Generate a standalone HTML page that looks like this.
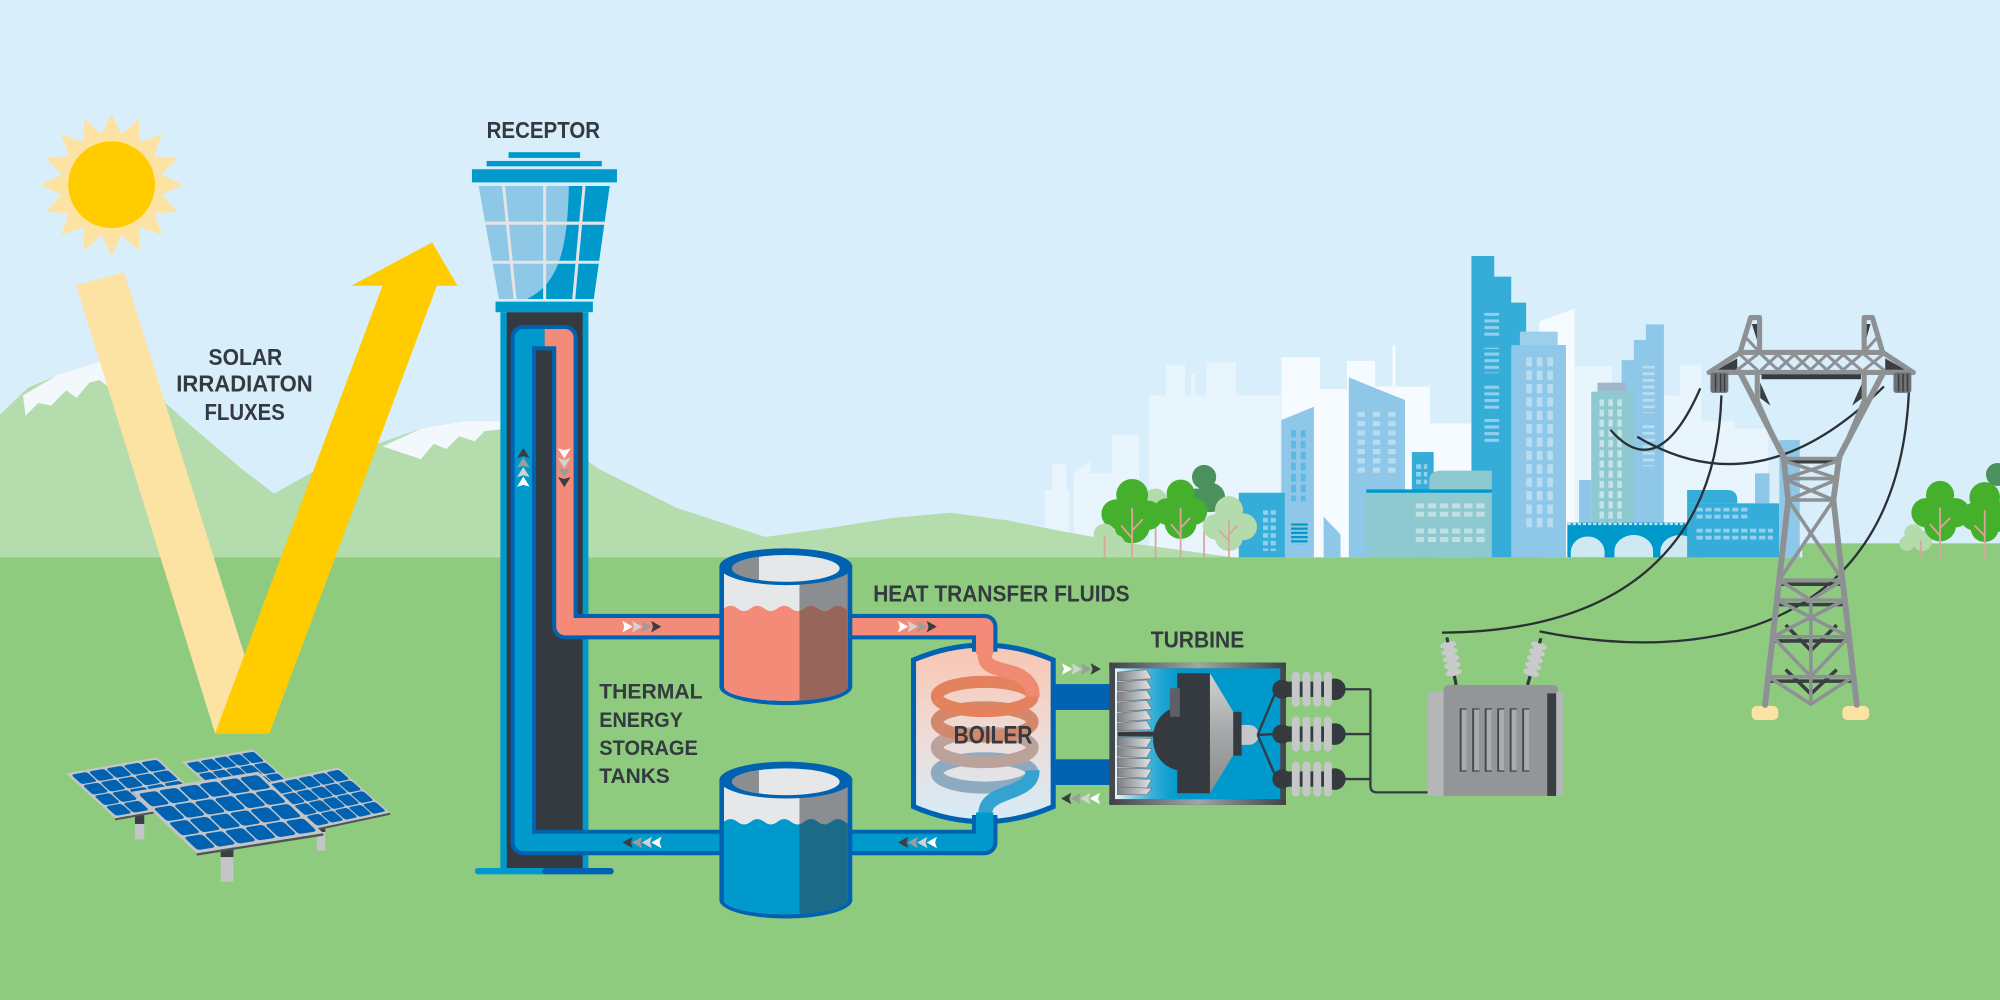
<!DOCTYPE html>
<html><head><meta charset="utf-8"><style>html,body{margin:0;padding:0;background:#d9eefb;}svg{display:block}</style></head>
<body>
<svg xmlns="http://www.w3.org/2000/svg" width="2000" height="1000" viewBox="0 0 1568 784">
<defs>
<linearGradient id="boilG" x1="0" y1="0" x2="0" y2="1"><stop offset="0" stop-color="#f9c6b2"/><stop offset="0.5" stop-color="#eedbd6"/><stop offset="1" stop-color="#d6ecf9"/></linearGradient>
<linearGradient id="turbL" x1="0" y1="0" x2="1" y2="0"><stop offset="0" stop-color="#eef7fc"/><stop offset="1" stop-color="#0099cc" stop-opacity="0"/></linearGradient>
<linearGradient id="bladeG" x1="0" y1="0" x2="1" y2="0"><stop offset="0" stop-color="#7c7f82"/><stop offset="1" stop-color="#e3e5e7"/></linearGradient>
<linearGradient id="frameG" x1="0" y1="0" x2="1" y2="0"><stop offset="0" stop-color="#3e4246"/><stop offset="0.5" stop-color="#a3a5a8"/><stop offset="1" stop-color="#3e4246"/></linearGradient>
<linearGradient id="coneG" x1="0" y1="0" x2="0" y2="1"><stop offset="0" stop-color="#d0d2d4"/><stop offset="0.5" stop-color="#a5a7a9"/><stop offset="1" stop-color="#8a8c8e"/></linearGradient>
<g id="chev">
<polygon points="0,-4.5 8,0 0,4.5 1.5,0" fill="#ffffff"/>
<polygon points="7.5,-4.5 15.5,0 7.5,4.5 9,0" fill="#d2d2d2"/>
<polygon points="15,-4.5 23,0 15,4.5 16.5,0" fill="#9c9c9c"/>
<polygon points="22.5,-4.5 30.5,0 22.5,4.5 24,0" fill="#3a3d41"/>
</g>
<g id="cells5" fill="#0062b0">
<rect x="3.4" y="3.4" width="17.4" height="16.9" rx="3"/><rect x="22.6" y="3.4" width="17.4" height="16.9" rx="3"/><rect x="41.8" y="3.4" width="17.4" height="16.9" rx="3"/><rect x="60.9" y="3.4" width="17.4" height="16.9" rx="3"/><rect x="80.1" y="3.4" width="17.4" height="16.9" rx="3"/>
<rect x="3.4" y="22.2" width="17.4" height="16.9" rx="3"/><rect x="22.6" y="22.2" width="17.4" height="16.9" rx="3"/><rect x="41.8" y="22.2" width="17.4" height="16.9" rx="3"/><rect x="60.9" y="22.2" width="17.4" height="16.9" rx="3"/><rect x="80.1" y="22.2" width="17.4" height="16.9" rx="3"/>
<rect x="3.4" y="40.9" width="17.4" height="16.9" rx="3"/><rect x="22.6" y="40.9" width="17.4" height="16.9" rx="3"/><rect x="41.8" y="40.9" width="17.4" height="16.9" rx="3"/><rect x="60.9" y="40.9" width="17.4" height="16.9" rx="3"/><rect x="80.1" y="40.9" width="17.4" height="16.9" rx="3"/>
<rect x="3.4" y="59.7" width="17.4" height="16.9" rx="3"/><rect x="22.6" y="59.7" width="17.4" height="16.9" rx="3"/><rect x="41.8" y="59.7" width="17.4" height="16.9" rx="3"/><rect x="60.9" y="59.7" width="17.4" height="16.9" rx="3"/><rect x="80.1" y="59.7" width="17.4" height="16.9" rx="3"/>
</g>
<clipPath id="tankClip"><path d="M567.6,444.3 L567.6,538.4 A48.5,11 0 0 0 664.6,538.4 L664.6,444.3 Z"/></clipPath>
<clipPath id="openClip"><ellipse cx="616.1" cy="445.6" rx="42.2" ry="10.5"/></clipPath>
<clipPath id="rightClip"><rect x="626.8" y="400" width="60" height="200"/></clipPath>
<path id="liq" d="M567.6,477 Q572.85,472.8 578.1,477 T588.6,477 T599.1,477 T609.6,477 T620.1,477 T630.6,477 T641.1,477 T651.6,477 T662.1,477 T672.6,477 L672.6,560 L567.6,560 Z"/>
<pattern id="pa" patternUnits="userSpaceOnUse" x="1163.8" y="245.2" width="11.5" height="5.2"><rect width="11.5" height="2.4" fill="#8fd0ee"/></pattern>
<pattern id="pb" patternUnits="userSpaceOnUse" x="1196.5" y="280" width="8.3" height="10.5"><rect width="4.5" height="7.3" fill="#b9dcf1"/></pattern>
<pattern id="pd" patternUnits="userSpaceOnUse" x="1287.8" y="286.7" width="9.4" height="5.2"><rect width="9.4" height="2.2" fill="#b9dcf1"/></pattern>
<pattern id="pe" patternUnits="userSpaceOnUse" x="1254" y="313" width="7" height="8"><rect width="3.5" height="5.5" fill="#c5e4e6"/></pattern>
<pattern id="pf" patternUnits="userSpaceOnUse" x="1012.2" y="337" width="7.6" height="8.6"><rect width="3.8" height="6" fill="#5db8e2"/></pattern>
<pattern id="pg" patternUnits="userSpaceOnUse" x="1064.3" y="322.8" width="12" height="7.3"><rect width="5.8" height="4" fill="#b9dcf1"/></pattern>
<pattern id="pi" patternUnits="userSpaceOnUse" x="1109.9" y="394.6" width="9.5" height="6.6"><rect width="6.5" height="3.9" fill="#c2e0e3"/></pattern>
<pattern id="pj" patternUnits="userSpaceOnUse" x="990.2" y="400" width="6" height="6"><rect width="4" height="3.6" fill="#8fd0ee"/></pattern>
<pattern id="pl" patternUnits="userSpaceOnUse" x="1330" y="398" width="7" height="5.5"><rect width="5" height="3" fill="#8fd0ee"/></pattern>
<pattern id="pk" patternUnits="userSpaceOnUse" x="1229" y="410" width="4" height="3"><rect width="2.5" height="1.6" fill="#c9e7f5"/></pattern>
<pattern id="pm" patternUnits="userSpaceOnUse" x="1012.2" y="410.3" width="13" height="3.3"><rect width="13" height="1.8" fill="#0099cc"/></pattern>
</defs>

<rect x="0" y="0" width="1568" height="784" fill="#d9eefb"/>

<g fill="#e9f5fd">
<rect x="819" y="384" width="19" height="53"/><rect x="825" y="364" width="11" height="20"/>
<rect x="842" y="371" width="51" height="66"/><polygon points="842,371 855,361 855,371"/>
<rect x="872" y="341" width="21" height="30"/>
<rect x="901" y="310" width="103" height="127"/><rect x="914" y="286" width="15" height="24"/><rect x="946" y="284" width="23" height="26"/><rect x="934" y="293" width="3" height="17"/>
<rect x="1228" y="287" width="36" height="150"/>
<rect x="1304" y="310" width="30" height="127"/><rect x="1317" y="286" width="17" height="24"/>
<rect x="1334" y="330" width="26" height="107"/><rect x="1359" y="336" width="27" height="101"/>
</g>
<g fill="#f5fbff">
<rect x="1004.6" y="280" width="30.4" height="157"/><rect x="1035" y="305" width="22" height="132"/>
<rect x="1056" y="283" width="22" height="154"/><rect x="1078" y="303" width="43" height="134"/>
<rect x="1091.7" y="271" width="2.3" height="32"/><rect x="1121" y="332" width="33" height="105"/>
<polygon points="1206.8,252 1234.5,242 1234.5,437 1206.8,437"/>
</g>

<polygon points="1271.4,437 1271.4,282.3 1280.9,282.3 1280.9,266.6 1290.4,266.6 1290.4,254.3 1304.5,254.3 1304.5,437" fill="#8ec7e8"/>
<rect x="1287.8" y="286.7" width="9.4" height="37" fill="url(#pd)"/><rect x="1287.8" y="330.6" width="9.4" height="35" fill="url(#pd)"/>
<rect x="1238" y="376.3" width="9.5" height="61" fill="#8ec7e8"/>
<rect x="1247.5" y="307.1" width="33.4" height="130" fill="#8ec9d1"/>
<rect x="1252.4" y="300" width="22.8" height="7.1" fill="#9fb6cd"/>
<rect x="1254" y="313" width="21" height="118" fill="url(#pe)"/>
<polygon points="1153.6,437 1153.6,200.7 1171.5,200.7 1171.5,216.9 1184.8,216.9 1184.8,237.3 1196.5,237.3 1196.5,437" fill="#36acd8"/>
<rect x="1163.8" y="245.2" width="11.5" height="20" fill="url(#pa)"/><rect x="1163.8" y="272.6" width="11.5" height="20" fill="url(#pa)"/>
<rect x="1163.8" y="301.3" width="11.5" height="20" fill="url(#pa)"/><rect x="1163.8" y="328.5" width="11.5" height="20" fill="url(#pa)"/>
<rect x="1184.8" y="270.5" width="42.9" height="166.5" fill="#8ec7e8"/>
<rect x="1191.6" y="260" width="29.6" height="10.5" fill="#9ccfea"/>
<rect x="1196.5" y="280" width="25" height="136" fill="url(#pb)"/>
<polygon points="1004.6,437 1004.6,329.3 1030.1,318.9 1030.1,437" fill="#8ec7e8"/>
<rect x="1012.2" y="337" width="11.5" height="56" fill="url(#pf)"/>
<rect x="1012.2" y="410.3" width="13" height="16.5" fill="url(#pm)"/>
<polygon points="1037.7,405 1051,419 1051,437 1037.7,437" fill="#8ec7e8"/>
<polygon points="1057.5,437 1057.5,295.9 1101.5,313.6 1101.5,437" fill="#8ec7e8"/>
<rect x="1064.3" y="322.8" width="31" height="50" fill="url(#pg)"/>
<rect x="1106.9" y="354.4" width="17.1" height="82.6" fill="#36acd8"/>
<rect x="1110" y="362" width="9" height="20" fill="url(#pj)"/>
<path d="M1120.5,384 L1120.5,377 Q1120.5,369 1130,369 L1169.6,369 L1169.6,384 Z" fill="#8ec9d1"/>
<rect x="1071.1" y="383.7" width="98.5" height="53.3" fill="#8ec9d1"/>
<rect x="1071.1" y="383.7" width="98.5" height="2.6" fill="#0099cc"/>
<rect x="1109.9" y="394.6" width="57" height="11" fill="url(#pi)"/><rect x="1109.9" y="414.2" width="57" height="11" fill="url(#pi)"/>
<rect x="971.2" y="386.3" width="36.1" height="50.7" fill="#36acd8"/>
<rect x="990.2" y="400" width="12" height="32" fill="url(#pj)"/>
<rect x="1228.8" y="409.8" width="107.2" height="27.2" fill="#0099cc"/>
<rect x="1229" y="410" width="107" height="2.2" fill="url(#pk)"/>
<g fill="#cfe9f3">
<path d="M1231.5,437 L1231.5,432 A13.3,12.5 0 0 1 1258,432 L1258,437 Z"/>
<path d="M1265.7,437 L1265.7,432 A15.1,12.5 0 0 1 1296,432 L1296,437 Z"/>
<path d="M1301.8,437 L1301.8,432 A15.2,12.5 0 0 1 1332.2,432 L1332.2,437 Z"/>
</g>
<rect x="1375.9" y="371.1" width="11.4" height="23.5" fill="#8ec7e8"/>
<path d="M1322.7,394.6 L1322.7,384.2 L1354,384.2 Q1362,384.2 1362,392 L1362,394.6 Z" fill="#36acd8"/>
<rect x="1322.7" y="394.6" width="72.2" height="42.4" fill="#36acd8"/>
<rect x="1330" y="398" width="42" height="10" fill="url(#pl)"/><rect x="1330" y="412" width="60" height="12" fill="url(#pl)"/>
<rect x="1395" y="345" width="16" height="92" fill="#8ec7e8"/>

<polygon points="0,325 22,304 48,293 80,283 112,300 150,334 190,368 215,387 245,370 290,350 330,336 365,330 395,330 430,340 470,368 530,398 600,421 650,414 700,406 745,402 790,408 830,416 880,425 967,437 967,445 0,445" fill="#b4dcad"/>
<polygon points="18,310 45,294 80,283 100,293 92,296 86,304 78,298 70,300 60,312 52,306 40,318 30,316 20,326" fill="#f2f8fc"/>
<polygon points="300,350 330,336 365,330 395,330 398,336 380,338 372,346 360,342 350,352 340,348 330,360 318,356" fill="#f2f8fc"/>

<rect x="0" y="437" width="1568" height="347" fill="#8fcb7f"/>
<rect x="1413" y="426" width="155" height="12" fill="#8fcb7f"/>

<g stroke="#d9a69c" stroke-width="1.4" fill="none">
<line x1="906" y1="395" x2="906" y2="437"/><line x1="944" y1="380" x2="944" y2="437"/>
</g>
<circle cx="906" cy="392" r="9" fill="#b4dbab"/>
<g fill="#4a915b"><circle cx="944" cy="374" r="9.5"/><circle cx="949" cy="390" r="11.5"/><circle cx="938" cy="392" r="9"/></g>
<g fill="#45b02c">
<circle cx="925.6" cy="387" r="11"/><circle cx="915" cy="401" r="10.5"/><circle cx="936" cy="401" r="10.5"/><circle cx="925.6" cy="410" r="12.5"/>
<circle cx="887.6" cy="388" r="12.5"/><circle cx="875" cy="403" r="11.5"/><circle cx="900" cy="404" r="11.5"/><circle cx="887.6" cy="412" r="14"/>
</g>
<g fill="#b4dbab">
<circle cx="963.5" cy="400" r="11"/><circle cx="953" cy="413" r="10"/><circle cx="975" cy="413" r="10.5"/><circle cx="963.5" cy="421" r="11"/>
<circle cx="866" cy="419" r="8.5"/><circle cx="874" cy="427" r="8"/>
</g>
<g stroke="#d9a69c" stroke-width="1.4" fill="none">
<line x1="887.6" y1="398" x2="887.6" y2="437"/><line x1="887.6" y1="422" x2="879" y2="412"/><line x1="887.6" y1="416" x2="896" y2="407"/>
<line x1="925.6" y1="398" x2="925.6" y2="437"/><line x1="925.6" y1="420" x2="918" y2="411"/><line x1="925.6" y1="414" x2="933" y2="406"/>
<line x1="963.5" y1="408" x2="963.5" y2="437"/><line x1="963.5" y1="424" x2="956" y2="416"/><line x1="963.5" y1="419" x2="970" y2="412"/>
<line x1="866" y1="420" x2="866" y2="437"/>
</g>

<circle cx="1566" cy="372" r="9" fill="#4a915b"/>
<g fill="#b4dbab"><circle cx="1500" cy="418" r="7"/><circle cx="1507" cy="424" r="8"/><circle cx="1495" cy="426" r="6"/></g>
<g fill="#45b02c">
<circle cx="1521" cy="388" r="11"/><circle cx="1510" cy="402" r="11.5"/><circle cx="1533" cy="402" r="11.5"/><circle cx="1521" cy="412" r="12.5"/>
<circle cx="1556" cy="390" r="12"/><circle cx="1548" cy="405" r="11"/><circle cx="1566" cy="405" r="12"/><circle cx="1556" cy="414" r="11"/>
</g>
<g stroke="#d9a69c" stroke-width="1.4" fill="none">
<line x1="1521" y1="398" x2="1521" y2="437.7"/><line x1="1521" y1="420" x2="1513" y2="411"/><line x1="1521" y1="414" x2="1529" y2="406"/>
<line x1="1556" y1="400" x2="1556" y2="437.7"/><line x1="1556" y1="420" x2="1548" y2="412"/>
<line x1="1506" y1="424" x2="1506" y2="437"/>
</g>

<polygon points="87.5,88.8 95.3,105.6 108.9,93.06 109.7,111.5 127.1,105.2 120.8,122.6 139.2,123.4 126.7,137 143.5,144.8 126.7,152.6 139.2,166.2 120.8,167 127.1,184.4 109.7,178.1 108.9,196.5 95.3,184 87.5,200.8 79.7,184 66.1,196.5 65.3,178.1 47.9,184.4 54.2,167 35.8,166.2 48.3,152.6 31.5,144.8 48.3,137 35.8,123.4 54.2,122.6 47.9,105.2 65.3,111.5 66.1,93.06 79.7,105.6" fill="#fde3a3"/>
<circle cx="87.5" cy="144.8" r="34" fill="#ffcc00"/>

<polygon points="59.5,223.4 97.3,213.5 211,575 168.6,575" fill="#fde3a3"/>
<polygon points="168.6,575 211.2,575 342.5,224 358.7,224 338.8,190 275.4,224 299.9,224" fill="#ffcc00"/>

<g font-family="'Liberation Sans', Arial, sans-serif" font-weight="bold" fill="#333a40" font-size="18">
<text x="163.5" y="286.2" textLength="57.8" lengthAdjust="spacingAndGlyphs">SOLAR</text>
<text x="138.2" y="307.1" textLength="107" lengthAdjust="spacingAndGlyphs">IRRADIATON</text>
<text x="160.3" y="329.3" textLength="63" lengthAdjust="spacingAndGlyphs">FLUXES</text>
<text x="381.5" y="108.3" textLength="89" lengthAdjust="spacingAndGlyphs">RECEPTOR</text>
<text x="684.6" y="471.6" textLength="201" lengthAdjust="spacingAndGlyphs">HEAT TRANSFER FLUIDS</text>
<text x="902.2" y="507.5" textLength="73.3" lengthAdjust="spacingAndGlyphs">TURBINE</text>
</g>
<g font-family="'Liberation Sans', Arial, sans-serif" font-weight="bold" fill="#333a40" font-size="17">
<text x="469.8" y="547.5" textLength="81" lengthAdjust="spacingAndGlyphs">THERMAL</text>
<text x="469.8" y="569.8" textLength="65.6" lengthAdjust="spacingAndGlyphs">ENERGY</text>
<text x="469.8" y="591.8" textLength="77.3" lengthAdjust="spacingAndGlyphs">STORAGE</text>
<text x="469.8" y="614" textLength="55.3" lengthAdjust="spacingAndGlyphs">TANKS</text>
</g>

<rect x="105.8" y="639" width="7.3" height="7" fill="#3a3e42"/><rect x="105.8" y="646" width="7.3" height="12" fill="#c3c5c7"/>
<rect x="248.3" y="646.8" width="6.7" height="5.5" fill="#3a3e42"/><rect x="248.3" y="652.3" width="6.7" height="14.7" fill="#c3c5c7"/>
<rect x="173" y="663.8" width="10" height="8.2" fill="#3a3e42"/><rect x="173" y="672" width="10" height="19.2" fill="#c3c5c7"/>
<g transform="matrix(0.562,-0.097,0.5,0.45,142.4,597.2)"><rect width="100" height="80" fill="#c3c5c7"/><use href="#cells5"/></g>
<g transform="matrix(0.711,-0.126,0.481,0.441,51.7,606.3)"><rect width="100" height="80" fill="#c3c5c7"/><use href="#cells5"/></g>
<line x1="90.2" y1="642.4" x2="161.3" y2="629.8" stroke="#4f5458" stroke-width="1.6"/>
<g transform="matrix(0.575,-0.122,0.506,0.445,207.8,613.8)"><rect width="100" height="80" fill="#c3c5c7"/><use href="#cells5"/></g>
<line x1="248.3" y1="650.2" x2="305.8" y2="638" stroke="#4f5458" stroke-width="1.6"/>
<g transform="matrix(0.8275,-0.1308,0.6375,0.6038,103.2,620.7)"><rect width="120" height="80" fill="#c3c5c7"/><use href="#cells5"/>
<g fill="#0062b0"><rect x="99.3" y="3.4" width="17.4" height="16.9" rx="3"/><rect x="99.3" y="22.2" width="17.4" height="16.9" rx="3"/><rect x="99.3" y="40.9" width="17.4" height="16.9" rx="3"/><rect x="99.3" y="59.7" width="17.4" height="16.9" rx="3"/></g></g>
<line x1="154.2" y1="669.9" x2="253.5" y2="654.2" stroke="#4f5458" stroke-width="1.8"/>

<rect x="398.7" y="119.3" width="56.1" height="4.5" fill="#0099cc"/>
<rect x="381.5" y="126.2" width="90.3" height="4.2" fill="#0099cc"/>
<rect x="370" y="132.7" width="113.7" height="10.3" fill="#0099cc"/>
<polygon points="375.2,145.8 478,145.8 465.5,234.4 391.2,234.4" fill="#8fc7e7"/>
<path d="M446,145.8 C445,190 440,222 413,234.4 L465.5,234.4 L478,145.8 Z" fill="#0099cc"/>
<g stroke="#e2e4e6" stroke-width="2.4">
<line x1="380.5" y1="175" x2="473.9" y2="175"/><line x1="386" y1="205.6" x2="469.6" y2="205.6"/>
<line x1="394.8" y1="145.8" x2="403.8" y2="234.4"/><line x1="427" y1="145.8" x2="427" y2="234.4"/><line x1="457.9" y1="145.8" x2="449.8" y2="234.4"/>
</g>
<rect x="388.5" y="236.5" width="76.3" height="8.3" fill="#0099cc"/>
<rect x="392.3" y="244.8" width="69" height="435.7" fill="#0099cc"/>
<rect x="397.3" y="244.8" width="59.5" height="435.7" fill="#353a40"/>
<rect x="372.3" y="680.5" width="56" height="5" rx="2.5" fill="#0099cc"/>
<rect x="425" y="680.5" width="56.2" height="5" rx="2.5" fill="#0062b0"/>

<rect x="822" y="536.3" width="50" height="20.3" fill="#0062b0"/>
<rect x="822" y="595.3" width="50" height="20.1" fill="#0062b0"/>

<path d="M716.2,517.4 Q771,494 825.7,517.4 L825.7,632.4 Q771,656 716.2,632.4 Z" fill="url(#boilG)" stroke="#0062b0" stroke-width="4"/>
<g fill="none" stroke-width="9.5">
<ellipse cx="772" cy="606" rx="37.5" ry="11.5" stroke="#8eaac0"/>
<ellipse cx="772" cy="586" rx="37.5" ry="11.5" stroke="#bba29b"/>
<ellipse cx="772" cy="566" rx="37.5" ry="11.5" stroke="#d1886d"/>
<ellipse cx="772" cy="546" rx="37.5" ry="11.5" stroke="#e3825d"/>
</g>
<path d="M772,505 L772,514 C772,526 790,524 800,530 C808,535 810,540 809.5,546" fill="none" stroke="#f08a72" stroke-width="11"/>
<path d="M809.5,604 C810,618 790,620 780,626 C773,630 772,634 772,645" fill="none" stroke="#35a3cf" stroke-width="11"/>

<g fill="none" stroke="#0062b0" stroke-width="20" stroke-linejoin="round">
<path d="M427,264.7 L410.3,264.7 L410.3,660.5 L570,660.5"/>
<path d="M427,264.7 L442.9,264.7 L442.9,491.3 L570,491.3"/>
<path d="M662,491.3 L772,491.3 L772,511"/>
<path d="M662,660.5 L772,660.5 L772,639"/>
</g>
<g fill="none" stroke-width="13.6" stroke-linejoin="round">
<path d="M427,264.7 L410.3,264.7 L410.3,660.5 L570,660.5" stroke="#0099cc"/>
<path d="M427,264.7 L442.9,264.7 L442.9,491.3 L570,491.3" stroke="#f48b78"/>
<path d="M662,491.3 L772,491.3 L772,513" stroke="#f48b78"/>
<path d="M662,660.5 L772,660.5 L772,637" stroke="#0099cc"/>
</g>

<g>
<path d="M564,444.3 A52.1,14.4 0 0 1 668.2,444.3 L668.2,538.4 A52.1,14.4 0 0 1 564,538.4 Z" fill="#0062b0"/>
<g clip-path="url(#tankClip)">
<rect x="567.6" y="440" width="59.2" height="115" fill="#e5e7e9"/>
<rect x="626.8" y="440" width="40" height="115" fill="#8b8e91"/>
<use href="#liq" fill="#f48b78"/>
<g clip-path="url(#rightClip)"><use href="#liq" fill="#98655a"/></g>
</g>
<ellipse cx="616.1" cy="444.3" rx="52.1" ry="14.4" fill="#0062b0"/>
<g clip-path="url(#openClip)"><rect x="570" y="430" width="96" height="30" fill="#e5e7e9"/><rect x="570" y="430" width="25" height="30" fill="#8b8e91"/></g>
</g>
<g transform="translate(0,167.3)">
<path d="M564,444.3 A52.1,14.4 0 0 1 668.2,444.3 L668.2,538.4 A52.1,14.4 0 0 1 564,538.4 Z" fill="#0062b0"/>
<g clip-path="url(#tankClip)">
<rect x="567.6" y="440" width="59.2" height="115" fill="#e5e7e9"/>
<rect x="626.8" y="440" width="40" height="115" fill="#8b8e91"/>
<use href="#liq" fill="#0099cc"/>
<g clip-path="url(#rightClip)"><use href="#liq" fill="#1b6a88"/></g>
</g>
<ellipse cx="616.1" cy="444.3" rx="52.1" ry="14.4" fill="#0062b0"/>
<g clip-path="url(#openClip)"><rect x="570" y="430" width="96" height="30" fill="#e5e7e9"/><rect x="570" y="430" width="25" height="30" fill="#8b8e91"/></g>
</g>

<use href="#chev" transform="translate(488,491.3)"/>
<use href="#chev" transform="translate(704,491.3)"/>
<use href="#chev" transform="translate(518.6,660.5) scale(-1,1)"/>
<use href="#chev" transform="translate(734.6,660.5) scale(-1,1)"/>
<use href="#chev" transform="translate(832.6,524.5)"/>
<use href="#chev" transform="translate(862.4,626) scale(-1,1)"/>
<use href="#chev" transform="translate(410.3,381.6) rotate(-90) scale(1,1.1)"/>
<use href="#chev" transform="translate(442.4,351.5) rotate(90) scale(1,1.1)"/>

<text x="747.6" y="582.8" font-family="'Liberation Sans', Arial, sans-serif" font-weight="bold" fill="#333a40" font-size="19.5" textLength="61.8" lengthAdjust="spacingAndGlyphs">BOILER</text>

<rect x="869.7" y="519.5" width="138.5" height="111.5" fill="#45494d"/>
<rect x="869.7" y="519.5" width="138.5" height="4.5" fill="url(#frameG)"/>
<rect x="869.7" y="626.5" width="138.5" height="4.5" fill="url(#frameG)"/>
<rect x="874.2" y="524" width="129.5" height="102.5" fill="#0099cc"/>
<rect x="874.2" y="524" width="58" height="102.5" fill="url(#turbL)"/>
<g fill="url(#bladeG)" stroke="#6d7073" stroke-width="0.5">
<polygon points="876,527 899,525 903,532 876,534"/>
<polygon points="876,535 899,533 903,540 876,542"/>
<polygon points="876,543 899,541 903,548 876,550"/>
<polygon points="876,551 899,549 903,556 876,558"/>
<polygon points="876,559 899,557 903,564 876,566"/>
<polygon points="876,567 899,565 903,572 876,573"/>
<polygon points="876,578 903,579 899,586 876,585"/>
<polygon points="876,586 903,587 899,594 876,593"/>
<polygon points="876,594 903,595 899,602 876,601"/>
<polygon points="876,602 903,603 899,610 876,609"/>
<polygon points="876,610 903,611 899,618 876,617"/>
<polygon points="876,617 903,618 899,623 876,623"/>
</g>
<rect x="876" y="573.6" width="31" height="3.9" fill="#35393d"/>
<path d="M924,554 C912,556 904,566 904,579 C904,592 912,602 924,604 Z" fill="#353a40"/>
<rect x="923" y="527.8" width="26" height="94.1" fill="#353a40"/>
<rect x="917.3" y="539.6" width="7.7" height="22.4" fill="#5d6165"/>
<polygon points="948.6,527.8 966.9,558 966.9,591.9 948.6,621.9" fill="url(#coneG)"/>
<rect x="966.9" y="558" width="6.5" height="34.4" fill="#353a40"/>
<path d="M973.4,568.3 L979,568.3 A7.8,7.8 0 0 1 979,584 L973.4,584 Z" fill="#c5c7c9"/>
<g stroke="#353a40" stroke-width="1.8" fill="none">
<line x1="986" y1="576.2" x2="1001" y2="540.4"/><line x1="986" y1="576.2" x2="1001" y2="575.5"/><line x1="986" y1="576.2" x2="1001" y2="610.8"/>
</g>

<g>
<circle cx="1005" cy="540.4" r="7.5" fill="#353a40"/><rect x="1005" y="534.4" width="43" height="12" fill="#353a40"/><circle cx="1046.5" cy="540.4" r="8.5" fill="#353a40"/>
<circle cx="1005" cy="575.5" r="7.5" fill="#353a40"/><rect x="1005" y="569.5" width="43" height="12" fill="#353a40"/><circle cx="1046.5" cy="575.5" r="8.5" fill="#353a40"/>
<circle cx="1005" cy="610.8" r="7.5" fill="#353a40"/><rect x="1005" y="604.8" width="43" height="12" fill="#353a40"/><circle cx="1046.5" cy="610.8" r="8.5" fill="#353a40"/>
</g>
<g fill="#c5c7c9">
<rect x="1012.8" y="526.7" width="6.2" height="27.4" rx="3"/><rect x="1021.2" y="526.7" width="6.2" height="27.4" rx="3"/><rect x="1029.6" y="526.7" width="6.2" height="27.4" rx="3"/><rect x="1038" y="526.7" width="6.2" height="27.4" rx="3"/>
<rect x="1012.8" y="561.8" width="6.2" height="27.4" rx="3"/><rect x="1021.2" y="561.8" width="6.2" height="27.4" rx="3"/><rect x="1029.6" y="561.8" width="6.2" height="27.4" rx="3"/><rect x="1038" y="561.8" width="6.2" height="27.4" rx="3"/>
<rect x="1012.8" y="597.1" width="6.2" height="27.4" rx="3"/><rect x="1021.2" y="597.1" width="6.2" height="27.4" rx="3"/><rect x="1029.6" y="597.1" width="6.2" height="27.4" rx="3"/><rect x="1038" y="597.1" width="6.2" height="27.4" rx="3"/>
</g>
<path d="M1054,540.4 L1074.4,540.4 M1054,575.5 L1074.4,575.5 M1054,610.8 L1074.4,610.8 M1074.4,540.4 L1074.4,616 Q1074.4,621.2 1079.5,621.2 L1120,621.2" fill="none" stroke="#353a40" stroke-width="1.8"/>

<g transform="translate(1141.6,537) rotate(-11)">
<line x1="0" y1="0" x2="0" y2="-9" stroke="#353a40" stroke-width="2.5"/>
<rect x="-3.5" y="-34" width="7" height="26" fill="#c8cacc"/>
<ellipse cx="0" cy="-10" rx="6.5" ry="2.8" fill="#c8cacc"/><ellipse cx="0" cy="-15.5" rx="6.5" ry="2.8" fill="#c8cacc"/><ellipse cx="0" cy="-21" rx="6.5" ry="2.8" fill="#c8cacc"/><ellipse cx="0" cy="-26.5" rx="6.5" ry="2.8" fill="#c8cacc"/><ellipse cx="0" cy="-32" rx="6.5" ry="2.8" fill="#c8cacc"/>
<line x1="0" y1="-34" x2="0" y2="-38" stroke="#353a40" stroke-width="2.5"/>
</g>
<g transform="translate(1197.6,537) rotate(16)">
<line x1="0" y1="0" x2="0" y2="-9" stroke="#353a40" stroke-width="2.5"/>
<rect x="-3.5" y="-34" width="7" height="26" fill="#c8cacc"/>
<ellipse cx="0" cy="-10" rx="6.5" ry="2.8" fill="#c8cacc"/><ellipse cx="0" cy="-15.5" rx="6.5" ry="2.8" fill="#c8cacc"/><ellipse cx="0" cy="-21" rx="6.5" ry="2.8" fill="#c8cacc"/><ellipse cx="0" cy="-26.5" rx="6.5" ry="2.8" fill="#c8cacc"/><ellipse cx="0" cy="-32" rx="6.5" ry="2.8" fill="#c8cacc"/>
<line x1="0" y1="-34" x2="0" y2="-38" stroke="#353a40" stroke-width="2.5"/>
</g>
<path d="M1119.2,624 L1119.2,546 Q1119.2,542.3 1123,542.3 L1136,542.3 L1136,624 Z" fill="#b4b6b8"/>
<path d="M1131.8,624 L1131.8,541 Q1131.8,537 1136,537 L1217,537 Q1221.4,537 1221.4,541 L1221.4,624 Z" fill="#939598"/>
<path d="M1220,624 L1220,542.3 L1222,542.3 Q1225.6,542.3 1225.6,546 L1225.6,624 Z" fill="#b4b6b8"/>
<rect x="1213" y="543.6" width="7" height="80.4" fill="#3a3e42"/>
<g>
<rect x="1144.4" y="555.3" width="5.6" height="49.7" fill="#45494d"/><rect x="1145.9" y="556.3" width="4.1" height="47.7" fill="#a9abad"/>
<rect x="1154.2" y="555.3" width="5.6" height="49.7" fill="#45494d"/><rect x="1155.7" y="556.3" width="4.1" height="47.7" fill="#a9abad"/>
<rect x="1164" y="555.3" width="5.6" height="49.7" fill="#45494d"/><rect x="1165.5" y="556.3" width="4.1" height="47.7" fill="#a9abad"/>
<rect x="1173.8" y="555.3" width="5.6" height="49.7" fill="#45494d"/><rect x="1175.3" y="556.3" width="4.1" height="47.7" fill="#a9abad"/>
<rect x="1183.6" y="555.3" width="5.6" height="49.7" fill="#45494d"/><rect x="1185.1" y="556.3" width="4.1" height="47.7" fill="#a9abad"/>
<rect x="1193.4" y="555.3" width="5.6" height="49.7" fill="#45494d"/><rect x="1194.9" y="556.3" width="4.1" height="47.7" fill="#a9abad"/>
</g>

<g fill="none" stroke="#2b3034" stroke-width="1.8">
<path d="M1130.5,496 C1270,495 1346,430 1349.6,310"/>
<path d="M1207,495 C1330,520 1488,500 1496.6,307"/>
<path d="M1333,304.5 Q1300,380 1262.6,337"/>
<path d="M1477,303 Q1380,400 1283.6,342.4"/>
</g>

<!-- pylon -->
<rect x="1373.3" y="553.5" width="20.9" height="11" rx="4" fill="#fde3a3"/>
<rect x="1444.4" y="553.5" width="21" height="11" rx="4" fill="#fde3a3"/>
<g fill="#3a3e42">
<polygon points="1373.5,254 1378,254 1378,268"/>
<polygon points="1466.5,254 1462.5,254 1462.5,268"/>
<polygon points="1346,290 1362,281 1362,290"/>
<polygon points="1494,290 1478,281 1478,290"/>
<polygon points="1380,300 1380,312 1388,318"/>
<polygon points="1460,300 1460,312 1452,318"/>
</g>
<g stroke="#3a3e42" stroke-width="2.8" fill="none">
<line x1="1396" y1="458" x2="1443.5" y2="458"/>
<line x1="1394" y1="474" x2="1445.5" y2="474"/>
<line x1="1391" y1="502.5" x2="1448.5" y2="502.5"/>
<line x1="1387.5" y1="534" x2="1452" y2="534"/>
<path d="M1400,525 L1419.7,544 L1440,525"/>
<path d="M1400,490 L1419.7,510 L1440,490"/>
<line x1="1400" y1="362" x2="1440" y2="362"/>
</g>
<g stroke="#8e9194" stroke-linecap="round" stroke-linejoin="round" fill="none">
<g stroke-width="4.6">
<line x1="1402" y1="392" x2="1383.8" y2="552.7"/><line x1="1437.4" y1="392" x2="1455.7" y2="552.7"/>
<polyline points="1364.2,292 1398.2,358 1402,392"/><polyline points="1476.6,292 1442,358 1437.4,392"/>
</g>
<g stroke-width="2.8">
<line x1="1397" y1="359.5" x2="1443" y2="359.5"/>
<line x1="1400" y1="375.2" x2="1440" y2="375.2"/>
<line x1="1398" y1="361" x2="1440" y2="375"/><line x1="1442" y1="361" x2="1400" y2="375"/>
<line x1="1400" y1="376" x2="1437.4" y2="392"/><line x1="1440" y1="376" x2="1402" y2="392"/>
<line x1="1402" y1="392" x2="1437.4" y2="392"/>
<line x1="1377.7" y1="313" x2="1392" y2="345"/><line x1="1461.5" y1="313" x2="1448" y2="345"/>
<line x1="1394.9" y1="454.8" x2="1444.6" y2="454.8"/><line x1="1393.1" y1="470.4" x2="1446.3" y2="470.4"/>
<line x1="1389.9" y1="499.2" x2="1449.6" y2="499.2"/><line x1="1386.3" y1="530.5" x2="1453.2" y2="530.5"/>
<line x1="1402" y1="392" x2="1444.6" y2="454.8"/><line x1="1437.4" y1="392" x2="1394.9" y2="454.8"/>
<polyline points="1394.9,454.8 1419.7,470.4 1444.6,454.8"/>
<line x1="1393.1" y1="470.4" x2="1449.6" y2="499.2"/><line x1="1446.3" y1="470.4" x2="1389.9" y2="499.2"/>
<polyline points="1389.9,499.2 1419.7,530.5 1449.6,499.2"/>
<polyline points="1386.3,530.5 1419.7,552 1453.2,530.5"/>
<line x1="1419.7" y1="470.4" x2="1419.7" y2="552"/>
</g>
<g stroke-width="4">
<line x1="1377.7" y1="292" x2="1377.7" y2="314"/><line x1="1461.5" y1="292" x2="1461.5" y2="314"/>
<line x1="1364.2" y1="276.3" x2="1476" y2="276.3"/>
<line x1="1340" y1="292" x2="1500" y2="292"/>
<line x1="1340" y1="292" x2="1364.2" y2="276.3"/><line x1="1500" y1="292" x2="1476" y2="276.3"/>
<polyline points="1364.2,276.3 1372.5,249 1379.5,249 1379.5,276.3"/>
<polyline points="1476,276.3 1468,249 1461.5,249 1461.5,276.3"/>
</g>
<g stroke-width="2.4">
<path d="M1381,278 L1393.8,290 M1393.8,278 L1381,290 M1393.8,278 L1406.6,290 M1406.6,278 L1393.8,290 M1406.6,278 L1419.4,290 M1419.4,278 L1406.6,290 M1419.4,278 L1432.2,290 M1432.2,278 L1419.4,290 M1432.2,278 L1445,290 M1445,278 L1432.2,290 M1445,278 L1459,290 M1459,278 L1445,290"/>
<path d="M1364.2,278 L1377.7,290 M1377.7,278 L1362,290 M1461.5,278 L1477,290 M1476,278 L1461.5,290"/>
<path d="M1370,266 L1379.5,276 M1470.5,266 L1461.5,276"/>
</g>
</g>
<rect x="1381" y="293.5" width="78" height="3.8" fill="#353a40"/>
<g fill="#6f7275">
<rect x="1341" y="292" width="14" height="16" rx="2"/><rect x="1484.5" y="292" width="14" height="16" rx="2"/>
</g>
<g stroke="#3a3e42" stroke-width="1.2">
<line x1="1345" y1="293" x2="1345" y2="307"/><line x1="1349" y1="293" x2="1349" y2="307"/><line x1="1352" y1="293" x2="1352" y2="307"/>
<line x1="1488.5" y1="293" x2="1488.5" y2="307"/><line x1="1492" y1="293" x2="1492" y2="307"/><line x1="1495.5" y1="293" x2="1495.5" y2="307"/>
</g>
</svg>
</body></html>
